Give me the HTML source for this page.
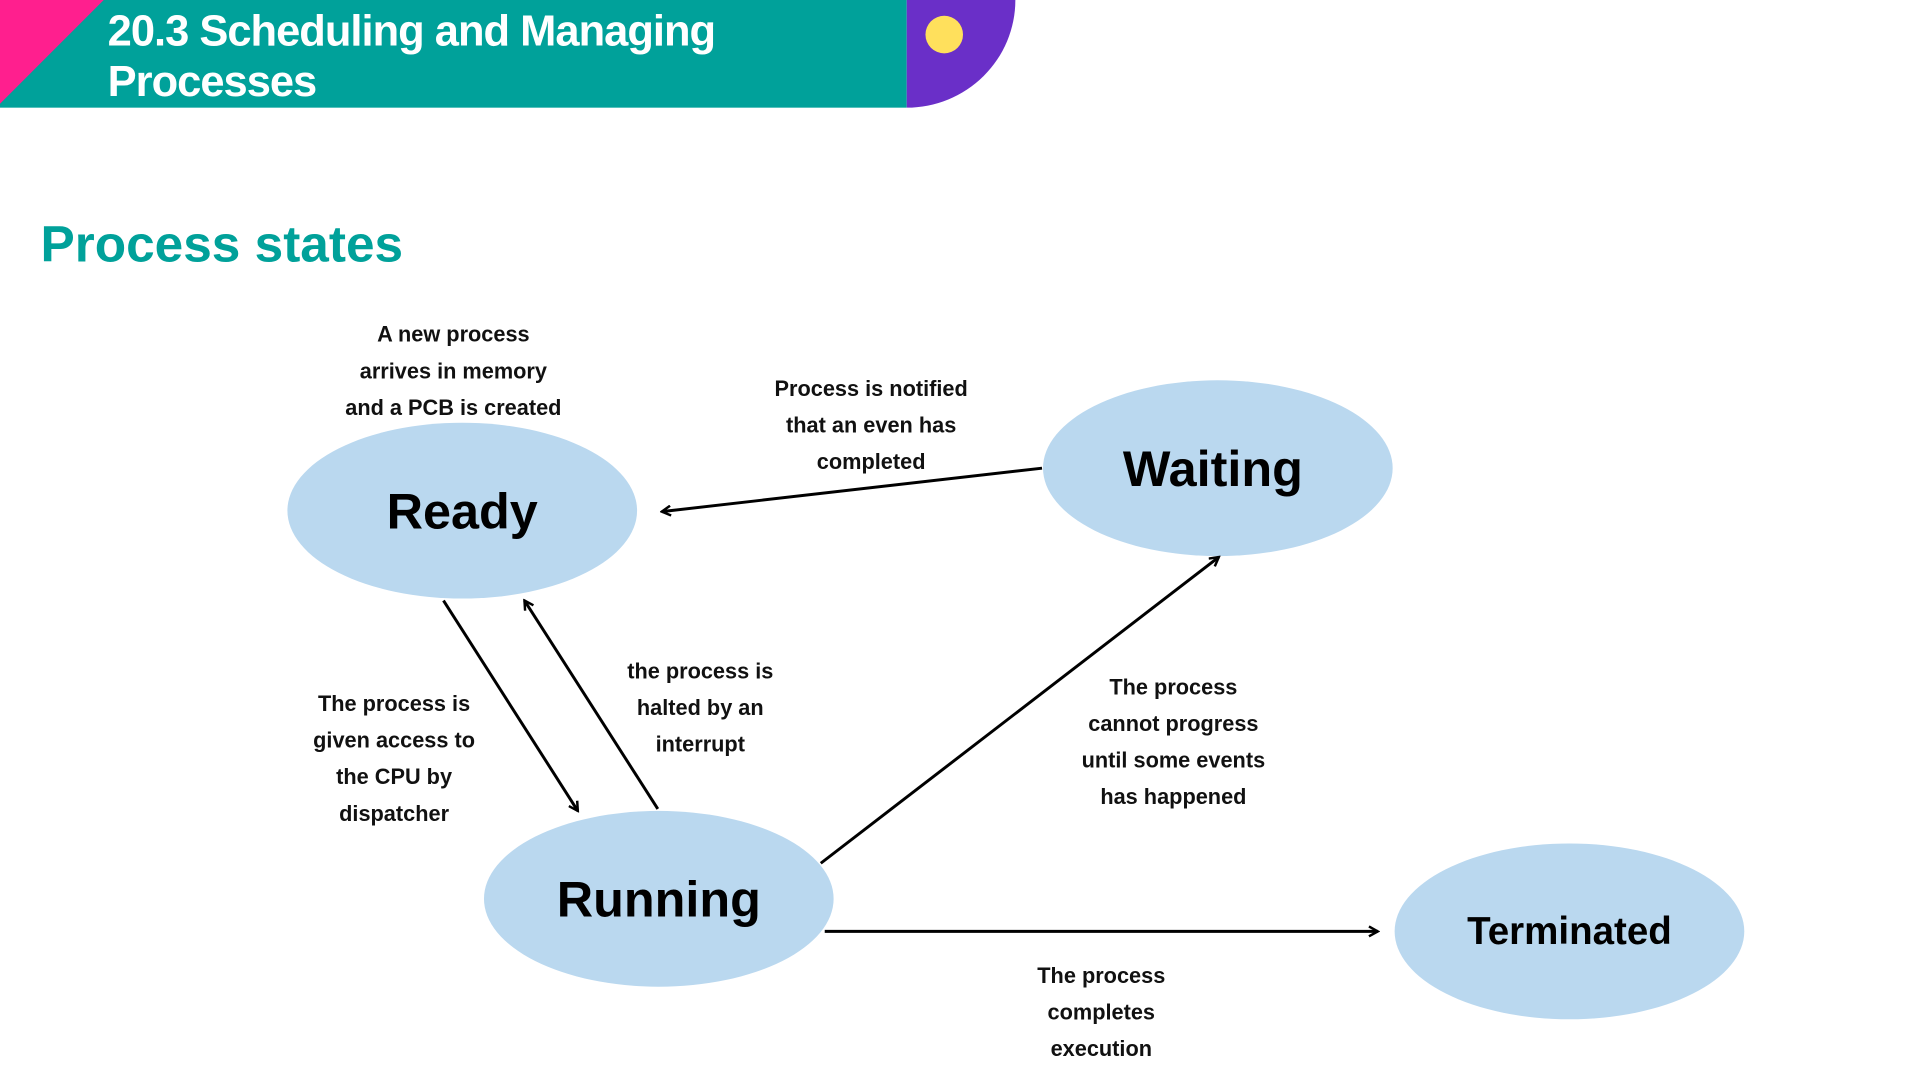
<!DOCTYPE html>
<html><head><meta charset="utf-8"><style>
body{margin:0;width:1920px;height:1080px;background:#fff;overflow:hidden;position:relative;font-family:"Liberation Sans",sans-serif}
#w{position:absolute;left:0;top:0;width:1920px;height:1080px;transform:scale(0.9877);transform-origin:0 0}
.t{position:absolute;text-align:center;font-weight:bold;font-size:22px;line-height:37px;color:#111;transform:translateX(-50%);white-space:nowrap}
</style></head><body><div id="w">
<svg width="1920" height="1080" style="position:absolute;left:0;top:0">
<defs><marker id="a" markerWidth="12" markerHeight="12" refX="10" refY="6" orient="auto" markerUnits="userSpaceOnUse"><path d="M1,1 L10,6 L1,11" fill="none" stroke="#000" stroke-width="2.5"/></marker></defs>
<rect x="0" y="0" width="918" height="109" fill="#00a19a"/>
<polygon points="0,0 105,0 0,105" fill="#ff1f8e"/>
<path d="M918,0 H1028 V0 A110,109 0 0 1 918,109 Z" fill="#6a2fc8"/>
<circle cx="956" cy="35" r="19" fill="#ffe05c"/>
<ellipse cx="468" cy="517" rx="177" ry="89" fill="#bad8ef"/>
<ellipse cx="1233" cy="474" rx="177" ry="89" fill="#bad8ef"/>
<ellipse cx="667" cy="910" rx="177" ry="89" fill="#bad8ef"/>
<ellipse cx="1589" cy="943" rx="177" ry="89" fill="#bad8ef"/>
<g stroke="#000" stroke-width="3" marker-end="url(#a)">
<line x1="1055" y1="474" x2="670" y2="518"/>
<line x1="449" y1="608" x2="585" y2="821"/>
<line x1="666" y1="819" x2="531" y2="608"/>
<line x1="831" y1="874" x2="1234" y2="564"/>
<line x1="835" y1="943" x2="1395" y2="943"/>
</g>
<g font-family="Liberation Sans,sans-serif" font-weight="bold" fill="#000" text-anchor="middle">
<text x="468" y="535" font-size="51">Ready</text>
<text x="1228" y="492" font-size="51">Waiting</text>
<text x="667" y="928" font-size="51">Running</text>
<text x="1589" y="956" font-size="39">Terminated</text>
</g>
</svg>
<div style="position:absolute;left:109px;top:6px;color:#fff;font-weight:bold;font-size:44px;line-height:51px;letter-spacing:-1px">20.3 Scheduling and Managing<br>Processes</div>
<div style="position:absolute;left:41px;top:218px;color:#00a19a;font-weight:bold;font-size:52px;line-height:60px">Process states</div>
<div class="t" style="left:459px;top:320px">A new process<br>arrives in memory<br>and a PCB is created</div>
<div class="t" style="left:882px;top:375px">Process is notified<br>that an even has<br>completed</div>
<div class="t" style="left:709px;top:661px">the process is<br>halted by an<br>interrupt</div>
<div class="t" style="left:399px;top:694px">The process is<br>given access to<br>the CPU by<br>dispatcher</div>
<div class="t" style="left:1188px;top:677px">The process<br>cannot progress<br>until some events<br>has happened</div>
<div class="t" style="left:1115px;top:969px">The process<br>completes<br>execution</div>
</div></body></html>
